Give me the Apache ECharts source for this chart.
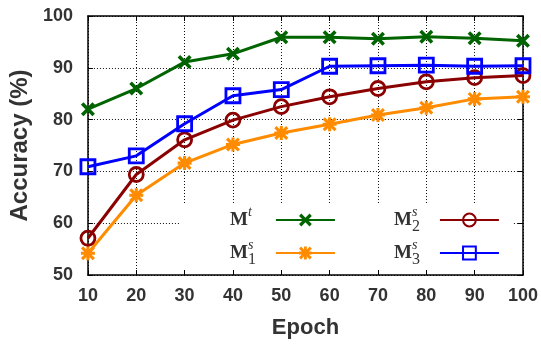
<!DOCTYPE html>
<html>
<head>
<meta charset="utf-8">
<script src="https://cdn.jsdelivr.net/npm/echarts@6/dist/echarts.min.js"></script>
<style>
  html, body { margin: 0; padding: 0; background: #fff; }
  #accChart { width: 541px; height: 344px; }
</style>
</head>
<body>
<div id="accChart"></div>
<script>
// epochs on the x axis
var epochs = [10, 20, 30, 40, 50, 60, 70, 80, 90, 100];
// accuracy (%)
var accMt  = [82.0, 86.0, 91.1, 92.7, 95.9, 95.9, 95.6, 96.0, 95.7, 95.2];
var accM1s = [54.2, 65.4, 71.6, 75.2, 77.4, 79.1, 80.9, 82.3, 84.0, 84.4];
var accM2s = [57.1, 69.4, 76.1, 79.9, 82.5, 84.4, 86.0, 87.3, 88.1, 88.5];
var accM3s = [70.9, 73.0, 79.2, 84.6, 85.8, 90.3, 90.4, 90.5, 90.3, 90.4];

var seriesNames = ['Mt', 'M1s', 'M2s', 'M3s'];
// legend labels as rich text: bold M, italic superscript, subscript
var legendLabels = {
  'Mt':  '{m|M}{sup|t}{sub| }{g| }',
  'M1s': '{m|M}{sup|s}{sub|1}{g| }',
  'M2s': '{m|M}{sup|s}{sub|2}{g| }',
  'M3s': '{m|M}{sup|s}{sub|3}{g| }'
};

// gnuplot-like x and asterisk point shapes
var xSym = 'path://M0,1.8L1.8,0L5,3.2L8.2,0L10,1.8L6.8,5L10,8.2L8.2,10L5,6.8L1.8,10L0,8.2L3.2,5Z';
var starSym = 'path://M0,1.6L1.6,0L5,3.4L8.4,0L10,1.6L6.6,5L10,8.4L8.4,10L5,6.6L1.6,10L0,8.4L3.4,5Z' +
  'M3.9,0L6.1,0L6.1,3.9L10,3.9L10,6.1L6.1,6.1L6.1,10L3.9,10L3.9,6.1L0,6.1L0,3.9L3.9,3.9Z';

function pairs(vals) {
  var out = [];
  for (var i = 0; i < epochs.length; i++) {
    out.push([epochs[i], vals[i]]);
  }
  return out;
}

function makeSeries(name, vals, color, symbol, hollow) {
  return {
    name: name,
    type: 'line',
    data: pairs(vals),
    clip: false,
    symbol: symbol,
    symbolSize: 14,
    lineStyle: { color: color, width: 3 },
    itemStyle: hollow ? { color: 'rgba(0,0,0,0)', borderColor: color, borderWidth: 2.8 } : { color: color },
    emphasis: { disabled: true },
    z: 2
  };
}

var richStyle = {
  m:   { align: 'left', fontFamily: 'Liberation Serif', fontWeight: 'bold', fontSize: 19, color: '#333', lineHeight: 30 },
  sup: { align: 'left', fontFamily: 'Liberation Serif', fontStyle: 'italic', fontSize: 14, color: '#333', width: 0, lineHeight: 16, verticalAlign: 'top' },
  sub: { align: 'left', fontFamily: 'Liberation Serif', fontSize: 16, color: '#333', width: 9, lineHeight: 14, verticalAlign: 'bottom' },
  g:   { align: 'left', width: 14, fontSize: 10 }
};

function legendBox(names, left, padding) {
  return {
    orient: 'vertical',
    left: left,
    top: 203,
    align: 'right',
    itemWidth: 59,
    itemHeight: 16,
    itemGap: 3,
    padding: padding,
    backgroundColor: '#fff',
    selectedMode: false,
    data: names,
    formatter: function (name) { return legendLabels[name]; },
    textStyle: { color: '#333', rich: richStyle }
  };
}

var labelFont = { fontFamily: 'Liberation Sans', fontWeight: 'bold', fontSize: 18, color: '#333' };

var myChart = echarts.init(document.getElementById('accChart'));
var option = {
  animation: false,
  backgroundColor: '#fff',
  grid: { left: 82, right: 16, top: 16, bottom: 69 },
  legend: [
    legendBox(['Mt', 'M1s'], 180, [2, 30, 5, 50]),
    legendBox(['M2s', 'M3s'], 363, [2, 13, 5, 31])
  ],
  xAxis: [{
    type: 'value', min: 10, max: 100, interval: 10, position: 'bottom', z: 10,
    name: 'Epoch', nameLocation: 'middle', nameGap: 42,
    nameTextStyle: { fontFamily: 'Liberation Sans', fontWeight: 'bold', fontSize: 22, color: '#333' },
    axisLine: { lineStyle: { color: '#000', width: 1.5 } },
    axisTick: { inside: true, length: 5, lineStyle: { color: '#000', width: 1 } },
    axisLabel: Object.assign({ margin: 12 }, labelFont),
    splitLine: { show: false }
  }, {
    type: 'value', min: 10, max: 100, interval: 10, position: 'top', z: 0,
    axisLine: { lineStyle: { color: '#000', width: 1.5 } },
    axisTick: { inside: true, length: 5, lineStyle: { color: '#000', width: 1 } },
    axisLabel: { show: false },
    splitLine: { show: true, lineStyle: { color: '#111', width: 1, type: [1, 2] } }
  }],
  yAxis: [{
    type: 'value', min: 50, max: 100, interval: 10, position: 'left', z: 0,
    name: 'Accuracy (%)', nameLocation: 'middle', nameGap: 52,
    nameTextStyle: { fontFamily: 'Liberation Sans', fontWeight: 'bold', fontSize: 24, color: '#333' },
    axisLine: { show: true, lineStyle: { color: '#000', width: 1.5 } },
    axisTick: { show: true, inside: true, length: 5, lineStyle: { color: '#000', width: 1 } },
    axisLabel: Object.assign({ margin: 15 }, labelFont),
    splitLine: { show: false }
  }, {
    type: 'value', min: 50, max: 100, interval: 10, position: 'right', z: 0,
    axisLine: { show: true, lineStyle: { color: '#000', width: 1.5 } },
    axisTick: { show: true, inside: true, length: 5, lineStyle: { color: '#000', width: 1 } },
    axisLabel: { show: false },
    splitLine: { show: true, lineStyle: { color: '#111', width: 1, type: [1, 2] } }
  }],
  series: [
    makeSeries(seriesNames[0], accMt, '#006400', xSym, false),
    makeSeries(seriesNames[1], accM1s, '#ff8c00', starSym, false),
    makeSeries(seriesNames[2], accM2s, '#8b0000', 'circle', true),
    makeSeries(seriesNames[3], accM3s, '#0000ff', 'rect', true)
  ]
};

myChart.setOption(option);
window.onresize = myChart.resize;
</script>
</body>
</html>
